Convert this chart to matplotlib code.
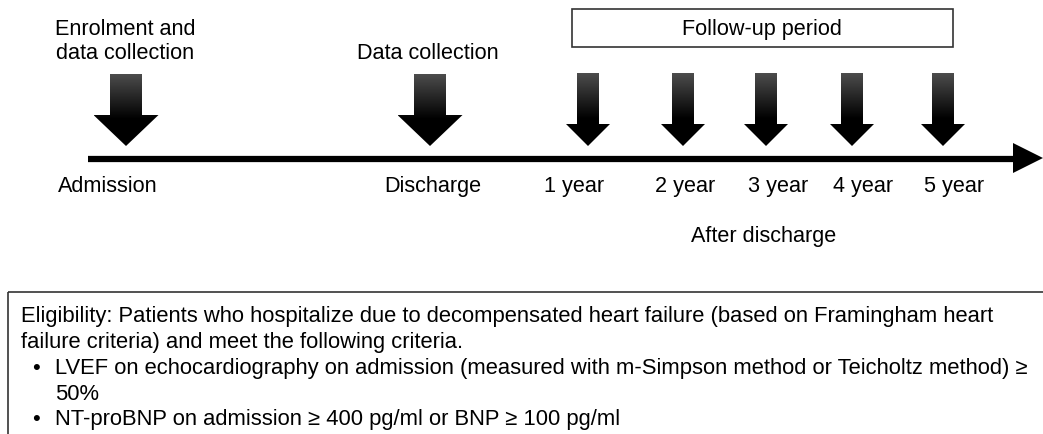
import matplotlib.pyplot as plt
import numpy as np
from matplotlib.patches import Polygon, Rectangle

plt.rcParams['font.family'] = ['Liberation Sans', 'DejaVu Sans']

# timeline events
event_labels = ["Admission", "Discharge", "1 year", "2 year", "3 year", "4 year", "5 year"]
event_x = [126, 430, 588, 683, 766, 852, 943]
label_x = [58, 433, 574, 685, 778, 863, 954]
label_ha = ["left", "center", "center", "center", "center", "center", "center"]
big_arrow = [True, True, False, False, False, False, False]

top_notes = ["Enrolment and\ndata collection", "Data collection"]
top_note_x = [125, 428]

eligibility_lines = [
    "Eligibility: Patients who hospitalize due to decompensated heart failure (based on Framingham heart",
    "failure criteria) and meet the following criteria.",
]
bullet_lines = [
    ["LVEF on echocardiography on admission (measured with m-Simpson method or Teicholtz method) \u2265", "50%"],
    ["NT-proBNP on admission \u2265 400 pg/ml or BNP \u2265 100 pg/ml"],
]

W, H = 1043, 435
fig = plt.figure(figsize=(W / 100, H / 100), dpi=100)
ax = fig.add_axes([0, 0, 1, 1])
ax.set_xlim(0, W)
ax.set_ylim(H, 0)
ax.axis("off")

FS = 15.6
FS_BOX = 15.8


def gradient_arrow(cx, big):
    if big:
        sw, hw, top, base, tip = 32, 65, 75, 116, 147
    else:
        sw, hw, top, base, tip = 22, 44, 74, 125, 147
    pts = [(cx - sw / 2, top), (cx + sw / 2, top), (cx + sw / 2, base),
           (cx + hw / 2, base), (cx, tip), (cx - hw / 2, base),
           (cx - sw / 2, base)]
    poly = Polygon(pts, closed=True, facecolor="none", edgecolor="none")
    ax.add_patch(poly)
    grad = np.linspace(0, 1, 100).reshape(-1, 1)
    grad = np.clip(grad * 1.6, 0, 1)
    vals = 0.30 * (1 - grad)
    img = np.dstack([vals, vals, vals])
    im = ax.imshow(img, extent=[cx - hw / 2, cx + hw / 2, tip, top],
                   aspect="auto", zorder=3, interpolation="bilinear")
    im.set_clip_path(poly)


# main timeline
ax.plot([88, 1015], [160, 160], color="black", lw=4.5, solid_capstyle="butt", zorder=2)
ax.add_patch(Polygon([(1013, 144), (1043, 159), (1013, 174)], closed=True,
                     facecolor="black", edgecolor="none", zorder=2))

for cx, big in zip(event_x, big_arrow):
    gradient_arrow(cx, big)

for lab, lx, ha in zip(event_labels, label_x, label_ha):
    ax.text(lx, 187, lab, fontsize=FS, ha=ha, va="center", color="black")

for note, nx in zip(top_notes, top_note_x):
    ax.text(nx, 59, note, fontsize=FS, ha="center", va="baseline",
            linespacing=1.2, color="black")

ax.text(764, 237, "After discharge", fontsize=FS, ha="center", va="center")

# follow-up box
ax.add_patch(Rectangle((572, 10), 381, 38, facecolor="none", edgecolor="#333333", lw=1.2))
ax.text(762, 29, "Follow-up period", fontsize=FS, ha="center", va="center")

# eligibility box
ax.add_patch(Rectangle((8, 293), 1100, 200, facecolor="none", edgecolor="#333333",
                       lw=1.2, clip_on=False))
y = 317
step = 25.7
for line in eligibility_lines:
    ax.text(21, y, line, fontsize=FS_BOX, ha="left", va="center")
    y += step
for bl in bullet_lines:
    ax.text(32, y, "\u2022", fontsize=FS_BOX, ha="left", va="center")
    for sub in bl:
        ax.text(55, y, sub, fontsize=FS_BOX, ha="left", va="center")
        y += step

fig.savefig("out.png", dpi=100)
